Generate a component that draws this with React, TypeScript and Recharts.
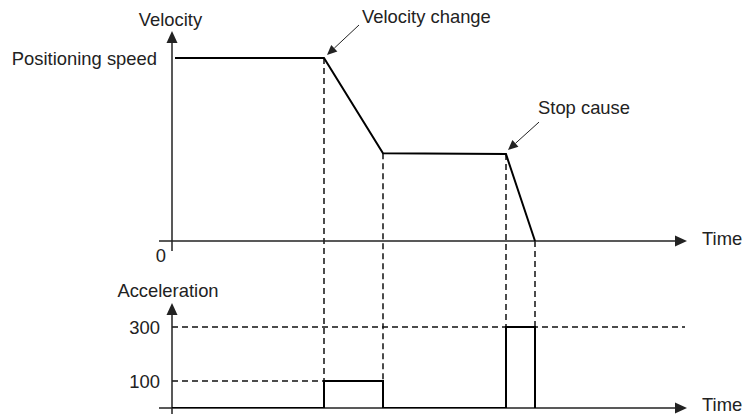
import React from 'react';
import { ComposedChart, Line, XAxis, YAxis, ReferenceLine, ReferenceDot } from 'recharts';

// time (arbitrary units) and velocity (% of positioning speed)
const TIMES = [3, 152, 211, 334, 363];
const VELOCITY = [100, 100, 48, 47.5, 0];
// acceleration steps (value holds from each time until the next)
const ACCEL_TIMES = [0, 152, 211, 334, 363];
const ACCEL = [0, 100, 0, 300, 0];
const ACCEL_TICKS = [100, 300];
const POSITIONING_SPEED = 100;
const MARK_TIMES = [152, 211, 334, 363];
const MARK_VELOCITY = [100, 48, 47.5, 0];

const T_DOMAIN = [0, 520];
const V_DOMAIN = [-91.26, 120.77];
const A_DOMAIN = [0, 1437];

const velData = TIMES.map((t, i) => ({ t, v: VELOCITY[i] }));
const accData = ACCEL_TIMES.map((t, i) => ({ t, a: ACCEL[i] }));

const INK = '#222';
const FONT = 'Arial, "Liberation Sans", sans-serif';
const FS = 18.4;

type Lbl = { text: string; dx: number; dy: number; anchor: 'start' | 'middle' | 'end' };

const axisArrow = (lbl?: Lbl) => (p: any) => {
  const { x1, y1, x2, y2 } = p;
  const ang = Math.atan2(y2 - y1, x2 - x1);
  const L = 12, W = 5.5;
  const bx = x2 - L * Math.cos(ang), by = y2 - L * Math.sin(ang);
  const px = -Math.sin(ang) * W, py = Math.cos(ang) * W;
  return (
    <g>
      <line x1={x1} y1={y1} x2={bx} y2={by} stroke={INK} strokeWidth={1.5} />
      <polygon points={`${x2},${y2} ${bx + px},${by + py} ${bx - px},${by - py}`} fill={INK} />
      {lbl && (
        <text x={x2 + lbl.dx} y={y2 + lbl.dy} textAnchor={lbl.anchor} fontSize={FS} fontFamily={FONT} fill={INK}>
          {lbl.text}
        </text>
      )}
    </g>
  );
};

const callout = (text: string, tail: number[], tip: number[], at: number[]) => (p: any) => {
  const { cx, cy } = p;
  const x1 = cx + tail[0], y1 = cy + tail[1], x2 = cx + tip[0], y2 = cy + tip[1];
  const ang = Math.atan2(y2 - y1, x2 - x1);
  const L = 10, W = 4.5;
  const bx = x2 - L * Math.cos(ang), by = y2 - L * Math.sin(ang);
  const px = -Math.sin(ang) * W, py = Math.cos(ang) * W;
  return (
    <g>
      <line x1={x1} y1={y1} x2={bx} y2={by} stroke={INK} strokeWidth={1} />
      <polygon points={`${x2},${y2} ${bx + px},${by + py} ${bx - px},${by - py}`} fill={INK} />
      <text x={cx + at[0]} y={cy + at[1]} fontSize={FS} fontFamily={FONT} fill={INK}>{text}</text>
    </g>
  );
};

const zeroLabel = (p: any) => (
  <text x={p.cx - 6} y={p.cy + 21} textAnchor="end" fontSize={FS} fontFamily={FONT} fill={INK}>0</text>
);

const accTick = (p: any) => (
  <text x={p.x} y={p.y} dy="0.355em" textAnchor="end" fontSize={FS} fontFamily={FONT} fill={INK}>
    {p.payload.value}
  </text>
);

const dash = { stroke: '#111', strokeWidth: 1.5, strokeDasharray: '6 4' };

export default function App() {
  return (
    <div style={{ position: 'absolute', left: 0, top: 0, width: 743, height: 414, background: '#fff', fontFamily: FONT }}>
      <ComposedChart width={743} height={414} margin={{ top: 20, right: 51, bottom: 6, left: 122 }}>
        <XAxis xAxisId={0} type="number" dataKey="t" domain={T_DOMAIN} allowDataOverflow hide />
        <YAxis yAxisId="v" type="number" domain={V_DOMAIN} allowDataOverflow hide />
        <YAxis
          yAxisId="a"
          type="number"
          domain={A_DOMAIN}
          allowDataOverflow
          ticks={ACCEL_TICKS}
          width={50}
          tickLine={false}
          axisLine={false}
          tickMargin={6}
          tick={accTick}
        />

        {/* guide lines */}
        {MARK_TIMES.map((t, i) => (
          <ReferenceLine
            key={'vd' + t}
            yAxisId="v"
            ifOverflow="visible"
            segment={[{ x: t, y: MARK_VELOCITY[i] }, { x: t, y: V_DOMAIN[0] }]}
            {...dash}
          />
        ))}
        <ReferenceLine yAxisId="a" ifOverflow="visible" segment={[{ x: 0, y: 300 }, { x: 513, y: 300 }]} {...dash} />
        <ReferenceLine yAxisId="a" ifOverflow="visible" segment={[{ x: 0, y: 100 }, { x: 152, y: 100 }]} {...dash} />

        {/* axes with arrows */}
        <ReferenceLine yAxisId="v" ifOverflow="visible" segment={[{ x: 0, y: -5.5 }, { x: 0, y: 114.8 }]}
          shape={axisArrow({ text: 'Velocity', dx: -1.5, dy: -5, anchor: 'middle' })} />
        <ReferenceLine yAxisId="v" ifOverflow="visible" segment={[{ x: -13, y: 0 }, { x: 515, y: 0 }]}
          shape={axisArrow({ text: 'Time', dx: 15, dy: 4, anchor: 'start' })} />
        <ReferenceLine yAxisId="a" ifOverflow="visible" segment={[{ x: 0, y: -22 }, { x: 0, y: 389 }]}
          shape={axisArrow({ text: 'Acceleration', dx: -4, dy: -6, anchor: 'middle' })} />
        <ReferenceLine yAxisId="a" ifOverflow="visible" segment={[{ x: -13, y: 0 }, { x: 515, y: 0 }]}
          shape={axisArrow({ text: 'Time', dx: 15, dy: 3, anchor: 'start' })} />

        <ReferenceLine yAxisId="v" y={POSITIONING_SPEED} ifOverflow="visible" stroke="none"
          label={{ value: 'Positioning speed', position: 'left', offset: 15, fontSize: FS, fill: INK, fontFamily: FONT }} />
        <ReferenceDot yAxisId="v" x={0} y={0} ifOverflow="visible" shape={zeroLabel} />

        <Line yAxisId="v" data={velData} dataKey="v" type="linear" stroke="#000" strokeWidth={2}
          dot={false} activeDot={false} isAnimationActive={false} />
        <Line yAxisId="a" data={accData} dataKey="a" type="stepAfter" stroke="#000" strokeWidth={2}
          dot={false} activeDot={false} isAnimationActive={false} />

        <ReferenceDot yAxisId="v" x={152} y={100} ifOverflow="visible"
          shape={callout('Velocity change', [35, -33], [3, -3], [38, -35])} />
        <ReferenceDot yAxisId="v" x={334} y={47.5} ifOverflow="visible"
          shape={callout('Stop cause', [33, -32], [2, -4], [32, -40])} />
      </ComposedChart>
    </div>
  );
}
